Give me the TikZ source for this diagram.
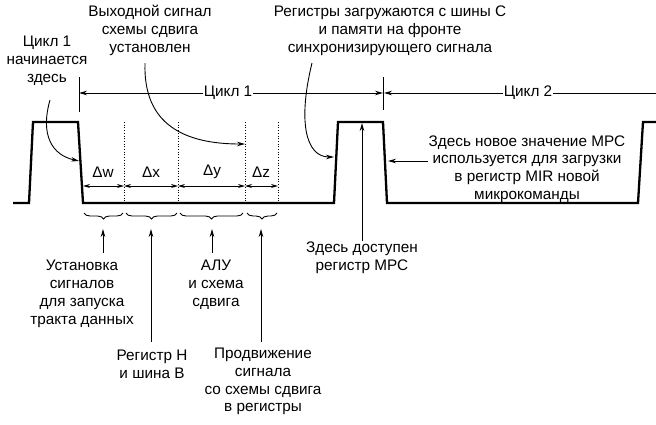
\documentclass[tikz,border=0pt]{standalone}
\usepackage{fontspec}
\setmainfont{Liberation Sans}
\usetikzlibrary{arrows.meta,decorations.pathreplacing,calc}
\begin{document}
\begin{tikzpicture}[x=1pt,y=-1pt,
  txt/.style={align=center,inner sep=1pt,font=\fontsize{15.3}{17.8}\selectfont},
  arr/.style={-{Stealth[length=8pt,width=4.5pt]},line width=0.9pt},
  dimarr/.style={{Stealth[length=7pt,width=4pt]}-{Stealth[length=7pt,width=4pt]},line width=0.9pt},
  wave/.style={line width=2.3pt,line join=miter},
  dotline/.style={dotted,line width=0.7pt},
  brc/.style={decorate,decoration={brace,mirror,amplitude=6pt},line width=0.9pt},
  thin/.style={line width=0.9pt}]
\useasboundingbox (0,0) rectangle (656,424);
% waveform
\draw[wave] (13,203) -- (29,203) -- (33,122) -- (78,122) -- (83,203) -- (334,203) -- (338,122) -- (383,122) -- (387,203) -- (638,203) -- (643,122) -- (656,122);
% dotted lines
\foreach \x in {124,178,245,278} \draw[dotline] (\x,122) -- (\x,203);
% cycle markers
\draw[thin] (79,77) -- (79,112);
\draw[thin] (383,77) -- (383,110);
\coordinate (m1) at (79,93);
\coordinate (m2) at (383,93);
\coordinate (m2b) at (384,93);
\coordinate (rend) at (656,93);
\node[txt] (cyc1) at (228,93) {Цикл 1};
\node[txt] (cyc2) at (528,93) {Цикл 2};
\draw[arr] (cyc1.west) -- (m1);
\draw[arr] (cyc1.east) -- (m2);
\draw[arr] (cyc2.west) -- (m2b);
\draw[thin] (cyc2.east) -- (rend);
% delta intervals
\coordinate (d0) at (83,186);
\coordinate (d1) at (124,186);
\coordinate (d2) at (178,186);
\coordinate (d3) at (245,186);
\coordinate (d4) at (278,186);
\draw[dimarr] (d0) -- (d1);
\draw[dimarr] (d1) -- (d2);
\draw[dimarr] (d2) -- (d3);
\draw[dimarr] (d3) -- (d4);
\node[txt] (dw) at (103,172) {Δw};
\node[txt] (dx) at (151,172) {Δx};
\node[txt] (dy) at (212,172) {Δy};
\node[txt] (dz) at (261,172) {Δz};
% braces
\draw[brc] (84,213) -- (123,213);
\draw[brc] (126,213) -- (177,213);
\draw[brc] (180,213) -- (243,213);
\draw[brc] (247,213) -- (277,213);
\coordinate (b1) at (103,229);
\coordinate (b2) at (151,229);
\coordinate (b3) at (212,229);
\coordinate (b4) at (261,229);
% bottom labels
\node[txt] (ust) at (82,294) {Установка\\сигналов\\для запуска\\тракта данных};
\node[txt] (alu) at (216,285) {АЛУ\\и схема\\сдвига};
\node[txt] (regh) at (152,364) {Регистр Н\\и шина В};
\node[txt] (prod) at (263,381.5) {Продвижение\\сигнала\\со схемы сдвига\\в регистры};
\coordinate (a1s) at (103,253);
\coordinate (a2s) at (151,342);
\coordinate (a3s) at (212,253);
\coordinate (a4s) at (261,342);
\draw[arr] (a1s) -- (b1);
\draw[arr] (a2s) -- (b2);
\draw[arr] (a3s) -- (b3);
\draw[arr] (a4s) -- (b4);
% MPC available
\node[txt] (mpc) at (362,258) {Здесь доступен\\регистр MPC};
\coordinate (p2top) at (362,123);
\draw[arr] (mpc.north) -- (p2top);
% right text
\node[txt] (rt) at (527,169) {Здесь новое значение MPC\\используется для загрузки\\в регистр MIR новой\\микрокоманды};
\coordinate (fe2) at (388,161);
\draw[arr] (rt.west |- fe2) -- (fe2);
% top labels
\node[txt] (start) at (47,60.5) {Цикл 1\\начинается\\здесь};
\node[txt] (shout) at (150,30.5) {Выходной сигнал\\схемы сдвига\\установлен};
\node[txt] (regload) at (390,30.5) {Регистры загружаются с шины С\\и памяти на фронте\\синхронизирующего сигнала};
% curved arrows
\coordinate (s1) at (50,100);
\coordinate (e1) at (79,161);
\draw[arr] (s1) .. controls (40,135) and (52,155) .. (e1);
\coordinate (s2) at (145,63);
\coordinate (e2) at (245,144);
\draw[arr] (s2) .. controls (143,125) and (185,144) .. (e2);
\coordinate (s3) at (312,63);
\coordinate (e3) at (334,157);
\draw[arr] (s3) .. controls (298,120) and (305,157) .. (e3);
\end{tikzpicture}
\end{document}
